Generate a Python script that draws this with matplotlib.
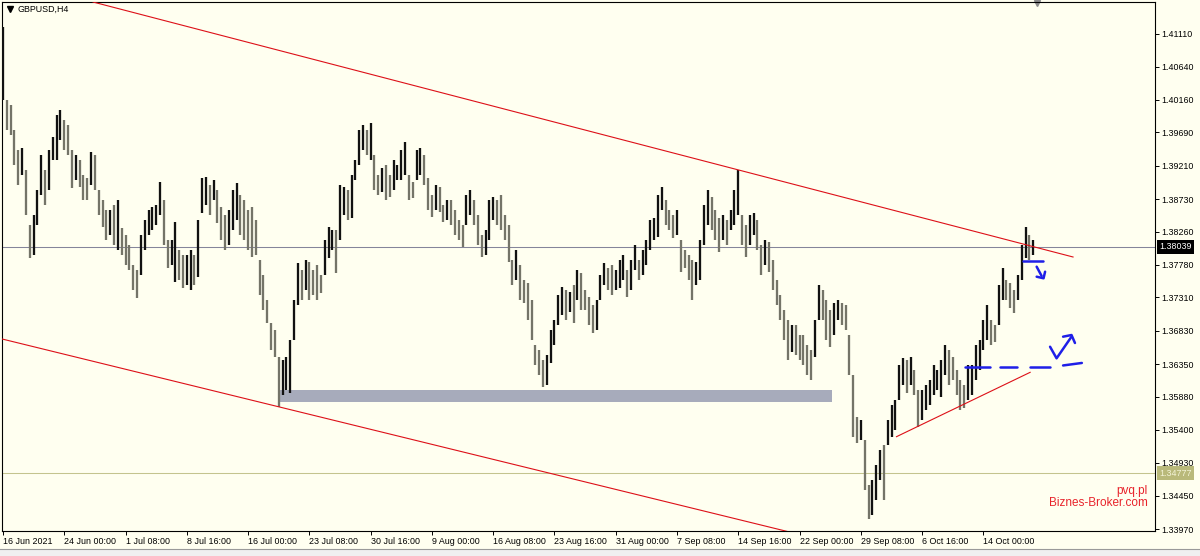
import matplotlib
matplotlib.use("Agg")
import matplotlib.pyplot as plt
from matplotlib.patches import Rectangle
import numpy as np

SYMBOL = "GBPUSD,H4"

# one entry per 8 hours (two H4 bars)
bar_high = [
    1.4121, 1.4016, 1.4009, 1.3972, 1.3944, 1.3947, 1.3915, 1.3836, 1.3850, 1.3886,
    1.3937, 1.3915, 1.3944, 1.3962, 1.3994, 1.4001, 1.3987, 1.3980, 1.3944, 1.3937,
    1.3929, 1.3908, 1.3903, 1.3941, 1.3937, 1.3886, 1.3872, 1.3857, 1.3857, 1.3864,
    1.3872, 1.3831, 1.3821, 1.3807, 1.3778, 1.3771, 1.3821, 1.3843, 1.3857, 1.3862,
    1.3864, 1.3898, 1.3872, 1.3814, 1.3814, 1.3840, 1.3800, 1.3792, 1.3792, 1.3800,
    1.3792, 1.3843, 1.3903, 1.3905, 1.3893, 1.3900, 1.3886, 1.3862, 1.3850, 1.3857,
    1.3886, 1.3896, 1.3879, 1.3872, 1.3857, 1.3862, 1.3843, 1.3785, 1.3764, 1.3727,
    1.3694, 1.3684, 1.3645, 1.3641, 1.3645, 1.3670, 1.3727, 1.3781, 1.3771, 1.3785,
    1.3782, 1.3771, 1.3778, 1.3764, 1.3814, 1.3833, 1.3828, 1.3828, 1.3893, 1.3890,
    1.3886, 1.3908, 1.3929, 1.3972, 1.3980, 1.3972, 1.3983, 1.3937, 1.3908, 1.3918,
    1.3922, 1.3908, 1.3929, 1.3922, 1.3944, 1.3955, 1.3908, 1.3898, 1.3944, 1.3947,
    1.3937, 1.3903, 1.3879, 1.3893, 1.3890, 1.3864, 1.3872, 1.3872, 1.3857, 1.3843,
    1.3836, 1.3879, 1.3886, 1.3872, 1.3850, 1.3821, 1.3828, 1.3872, 1.3876, 1.3872,
    1.3879, 1.3850, 1.3836, 1.3785, 1.3800, 1.3778, 1.3756, 1.3752, 1.3727, 1.3663,
    1.3655, 1.3641, 1.3648, 1.3684, 1.3699, 1.3735, 1.3746, 1.3742, 1.3739, 1.3749,
    1.3771, 1.3766, 1.3742, 1.3732, 1.3720, 1.3727, 1.3764, 1.3781, 1.3774, 1.3778,
    1.3771, 1.3785, 1.3792, 1.3771, 1.3785, 1.3807, 1.3785, 1.3800, 1.3814, 1.3843,
    1.3846, 1.3879, 1.3890, 1.3872, 1.3857, 1.3850, 1.3857, 1.3814, 1.3800, 1.3792,
    1.3785, 1.3782, 1.3814, 1.3864, 1.3886, 1.3876, 1.3857, 1.3846, 1.3850, 1.3843,
    1.3857, 1.3886, 1.3915, 1.3850, 1.3836, 1.3850, 1.3853, 1.3843, 1.3807, 1.3814,
    1.3811, 1.3785, 1.3756, 1.3735, 1.3713, 1.3699, 1.3691, 1.3691, 1.3677, 1.3677,
    1.3663, 1.3655, 1.3699, 1.3749, 1.3742, 1.3727, 1.3713, 1.3723, 1.3727, 1.3723,
    1.3720, 1.3677, 1.3619, 1.3559, 1.3554, 1.3526, 1.3461, 1.3468, 1.3490, 1.3511,
    1.3518, 1.3554, 1.3576, 1.3583, 1.3634, 1.3644, 1.3641, 1.3645, 1.3627, 1.3598,
    1.3598, 1.3605, 1.3612, 1.3634, 1.3627, 1.3641, 1.3663, 1.3655, 1.3645, 1.3627,
    1.3612, 1.3605, 1.3634, 1.3634, 1.3663, 1.3670, 1.3699, 1.3720, 1.3699, 1.3691,
    1.3749, 1.3774, 1.3756, 1.3752, 1.3742, 1.3764, 1.3807, 1.3833, 1.3821, 1.3814,
]

bar_low = [
    1.4016, 1.3972, 1.3965, 1.3922, 1.3893, 1.3908, 1.3850, 1.3788, 1.3792, 1.3836,
    1.3879, 1.3864, 1.3886, 1.3929, 1.3929, 1.3958, 1.3944, 1.3937, 1.3889, 1.3900,
    1.3890, 1.3872, 1.3872, 1.3893, 1.3886, 1.3850, 1.3833, 1.3814, 1.3821, 1.3807,
    1.3800, 1.3792, 1.3778, 1.3771, 1.3742, 1.3730, 1.3764, 1.3800, 1.3821, 1.3828,
    1.3836, 1.3850, 1.3807, 1.3774, 1.3778, 1.3753, 1.3756, 1.3745, 1.3749, 1.3742,
    1.3749, 1.3761, 1.3853, 1.3864, 1.3850, 1.3872, 1.3839, 1.3814, 1.3800, 1.3807,
    1.3828, 1.3843, 1.3821, 1.3814, 1.3800, 1.3789, 1.3792, 1.3735, 1.3713, 1.3694,
    1.3655, 1.3645, 1.3573, 1.3590, 1.3598, 1.3593, 1.3670, 1.3720, 1.3727, 1.3742,
    1.3727, 1.3735, 1.3727, 1.3737, 1.3764, 1.3788, 1.3800, 1.3766, 1.3814, 1.3850,
    1.3843, 1.3846, 1.3900, 1.3922, 1.3944, 1.3937, 1.3929, 1.3886, 1.3879, 1.3883,
    1.3872, 1.3876, 1.3886, 1.3900, 1.3900, 1.3908, 1.3872, 1.3874, 1.3900, 1.3908,
    1.3893, 1.3857, 1.3847, 1.3857, 1.3854, 1.3840, 1.3843, 1.3836, 1.3821, 1.3814,
    1.3804, 1.3836, 1.3850, 1.3836, 1.3807, 1.3789, 1.3792, 1.3814, 1.3843, 1.3836,
    1.3828, 1.3814, 1.3782, 1.3749, 1.3756, 1.3727, 1.3723, 1.3699, 1.3670, 1.3634,
    1.3619, 1.3602, 1.3605, 1.3637, 1.3663, 1.3691, 1.3706, 1.3699, 1.3710, 1.3694,
    1.3727, 1.3713, 1.3713, 1.3691, 1.3680, 1.3684, 1.3727, 1.3749, 1.3742, 1.3735,
    1.3742, 1.3745, 1.3756, 1.3732, 1.3742, 1.3771, 1.3756, 1.3764, 1.3778, 1.3800,
    1.3814, 1.3818, 1.3857, 1.3836, 1.3828, 1.3817, 1.3821, 1.3768, 1.3774, 1.3756,
    1.3727, 1.3749, 1.3756, 1.3807, 1.3836, 1.3828, 1.3814, 1.3797, 1.3814, 1.3807,
    1.3828, 1.3836, 1.3850, 1.3807, 1.3789, 1.3807, 1.3821, 1.3800, 1.3764, 1.3778,
    1.3768, 1.3742, 1.3720, 1.3699, 1.3670, 1.3641, 1.3652, 1.3648, 1.3641, 1.3634,
    1.3619, 1.3612, 1.3645, 1.3699, 1.3699, 1.3670, 1.3660, 1.3677, 1.3699, 1.3691,
    1.3684, 1.3619, 1.3530, 1.3521, 1.3526, 1.3453, 1.3412, 1.3417, 1.3439, 1.3468,
    1.3439, 1.3518, 1.3530, 1.3540, 1.3583, 1.3605, 1.3593, 1.3605, 1.3590, 1.3544,
    1.3554, 1.3569, 1.3576, 1.3590, 1.3598, 1.3588, 1.3619, 1.3605, 1.3612, 1.3590,
    1.3569, 1.3572, 1.3583, 1.3590, 1.3612, 1.3627, 1.3655, 1.3670, 1.3663, 1.3667,
    1.3691, 1.3727, 1.3727, 1.3716, 1.3709, 1.3727, 1.3756, 1.3788, 1.3785, 1.3792,
]

time_labels = ["16 Jun 2021", "24 Jun 00:00", "1 Jul 08:00", "8 Jul 16:00",
               "16 Jul 00:00", "23 Jul 08:00", "30 Jul 16:00", "9 Aug 00:00",
               "16 Aug 08:00", "23 Aug 16:00", "31 Aug 00:00", "7 Sep 08:00",
               "14 Sep 16:00", "22 Sep 00:00", "29 Sep 08:00", "6 Oct 16:00",
               "14 Oct 00:00"]
bars_per_label = 16

price_ticks = [1.41110, 1.40640, 1.40160, 1.39690, 1.39210, 1.38730, 1.38260,
               1.37780, 1.37310, 1.36830, 1.36350, 1.35880, 1.35400, 1.34930,
               1.34450, 1.33970]

bid_price = 1.38039
level_price = 1.34777

# chart objects: (bar index, price)
channel_upper = [(23.5, 1.41571), (279.4, 1.37894)]
channel_lower = [(-1.0, 1.36722), (206.0, 1.33920)]
support_line = [(233.3, 1.35303), (268.2, 1.36231)]
zone_bars = (71.8, 216.4)
zone_prices = (1.35803, 1.35976)

# hand drawn marks
pen_level = [(266.3, 1.37836), (271.5, 1.37836)]
pen_arrow_down = [(269.9, 1.37754), (271.2, 1.37620)]
pen_arrow_down_head = [(269.9, 1.37610), (271.7, 1.37587), (272.1, 1.37682)]
pen_dashes = [[(251.2, 1.36312), (257.7, 1.36312)],
              [(260.3, 1.36312), (264.8, 1.36312)],
              [(268.1, 1.36312), (273.4, 1.36312)],
              [(276.8, 1.36330), (281.7, 1.36366)]]
pen_check = [(273.4, 1.36600), (275.1, 1.36433), (279.0, 1.36745)]
pen_check_head = [(276.8, 1.36745), (279.0, 1.36769), (279.9, 1.36654)]

BG = "#fffff0"
W, H = 1200, 556


def draw_pen(ax, pts, color="#1f1fe8", lw=1.8):
    xs = [p[0] for p in pts]
    ys = [p[1] for p in pts]
    ax.plot(xs, ys, color=color, lw=lw, solid_capstyle="round",
            solid_joinstyle="round", zorder=6)


def main():
    fig = plt.figure(figsize=(W / 100, H / 100), dpi=100, facecolor=BG)
    ax = fig.add_axes([2 / W, 25 / H, 1153 / W, 529 / H], facecolor=BG)

    n = len(bar_high)
    idx = np.arange(n)
    hi = np.array(bar_high)
    lo = np.array(bar_low)
    mid = (hi + lo) / 2
    up = np.r_[True, mid[1:] >= mid[:-1]]
    colors = np.where(up, "#111111", "#747468")
    ax.vlines(idx, lo, hi, colors=colors, lw=1.65, zorder=3)

    ax.set_xlim(-0.26, 300.8)
    ax.set_ylim(1.33943, 1.41571)

    # horizontal levels
    ax.axhline(bid_price, color="#85859a", lw=0.75, zorder=2)
    ax.axhline(level_price, color="#c4c48e", lw=0.75, zorder=2)

    # channel and support
    for line in (channel_upper, channel_lower, support_line):
        ax.plot([p[0] for p in line], [p[1] for p in line],
                color="#dd1018", lw=0.8, zorder=4)

    ax.add_patch(Rectangle((zone_bars[0], zone_prices[0]),
                           zone_bars[1] - zone_bars[0],
                           zone_prices[1] - zone_prices[0],
                           facecolor="#a7abbb", edgecolor="none", zorder=2))

    draw_pen(ax, pen_level)
    draw_pen(ax, pen_arrow_down)
    draw_pen(ax, pen_arrow_down_head)
    for d in pen_dashes:
        draw_pen(ax, d)
    draw_pen(ax, pen_check)
    draw_pen(ax, pen_check_head)

    # axes styling
    for sp in ax.spines.values():
        sp.set_color("black")
        sp.set_linewidth(0.8)

    ax.yaxis.tick_right()
    ax.set_yticks(price_ticks)
    ax.set_yticklabels([f"{p:.5f}" for p in price_ticks])
    ax.tick_params(axis="y", direction="out", length=3, width=0.7,
                   pad=1.5, labelsize=6.4, colors="black")

    ax.set_xticks(np.arange(len(time_labels)) * bars_per_label)
    ax.set_xticklabels(time_labels)
    ax.tick_params(axis="x", direction="out", length=3, width=0.7,
                   pad=1.5, labelsize=6.4, colors="black")
    for lab in ax.get_xticklabels():
        lab.set_ha("left")
    for t in ax.get_xticklabels() + ax.get_yticklabels():
        t.set_family("Liberation Sans")

    # price boxes on the scale
    ax.annotate(f"{bid_price:.5f}", xy=(1.0 + 4 / 1153, bid_price),
                xycoords=("axes fraction", "data"), ha="left", va="center",
                fontsize=6.4, family="Liberation Sans", color="white",
                bbox=dict(boxstyle="square,pad=0.25", fc="black", ec="none"),
                annotation_clip=False, zorder=7)
    ax.annotate(f"{level_price:.5f}", xy=(1.0 + 4 / 1153, level_price),
                xycoords=("axes fraction", "data"), ha="left", va="center",
                fontsize=6.4, family="Liberation Sans", color="#f4f4d8",
                bbox=dict(boxstyle="square,pad=0.25", fc="#b9b97a", ec="none"),
                annotation_clip=False, zorder=7)

    # symbol caption
    ax.plot([8 / 1153], [1 - 7 / 529], marker="v", ms=4, color="black",
            transform=ax.transAxes, clip_on=False)
    ax.text(15 / 1153, 1 - 7 / 529, SYMBOL, transform=ax.transAxes,
            ha="left", va="center", fontsize=6.4, family="Liberation Sans")
    # chart shift marker
    ax.plot([(1037 - 2) / 1153], [1 - 1 / 529], marker="v", ms=5,
            color="#8a8a8a", transform=ax.transAxes, clip_on=False)

    ax.text(1 - 7 / 1153, 1 - 489 / 529, "pvq.pl", transform=ax.transAxes,
            ha="right", va="center", fontsize=8.5, color="#e8242c",
            family="Liberation Sans")
    ax.text(1 - 7 / 1153, 1 - 501 / 529, "Biznes-Broker.com",
            transform=ax.transAxes, ha="right", va="center", fontsize=8.5,
            color="#e8242c", family="Liberation Sans")

    # window frame at the bottom
    fig.patches.append(Rectangle((0, 0), 1, 7 / H, transform=fig.transFigure,
                                 facecolor="#f0f0f0", edgecolor="none"))
    fig.lines.append(plt.Line2D([0, 1], [7 / H, 7 / H], transform=fig.transFigure,
                                color="#9a9a9a", lw=0.8))

    fig.savefig("out.png", dpi=100, facecolor=BG)
    plt.close(fig)


if __name__ == "__main__":
    main()
